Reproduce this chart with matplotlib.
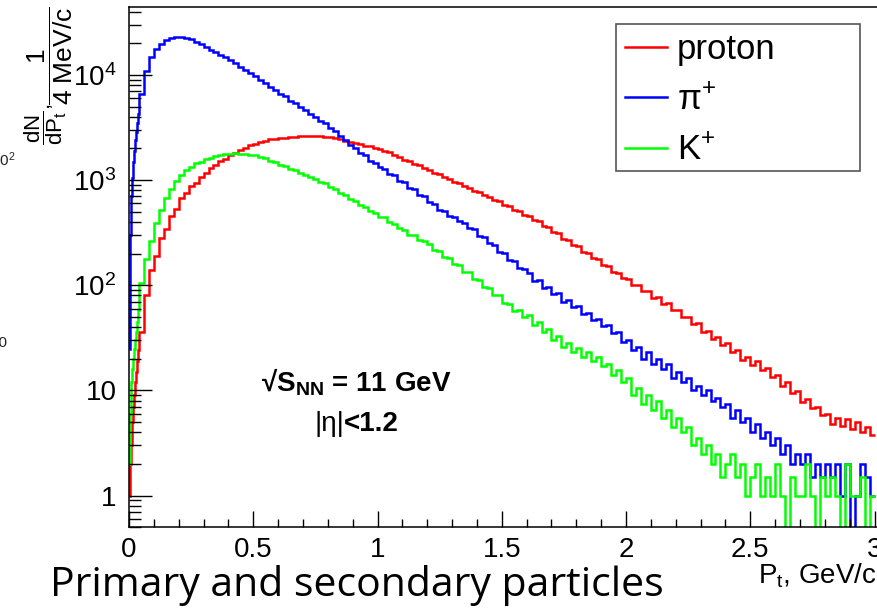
import numpy as np
import matplotlib
matplotlib.use("Agg")
from matplotlib import pyplot as plt
from matplotlib.patches import Rectangle
from matplotlib.ticker import FixedLocator, LogLocator, MultipleLocator, NullFormatter

plt.rcParams['font.family'] = ['Liberation Sans', 'DejaVu Sans']
plt.rcParams['mathtext.fontset'] = 'custom'
plt.rcParams['mathtext.rm'] = 'Liberation Sans'
plt.rcParams['mathtext.it'] = 'Liberation Sans:italic'
plt.rcParams['mathtext.bf'] = 'Liberation Sans:bold'

# binning: 4 MeV bins below 0.04 GeV/c, 20 MeV bins above (counts per 4 MeV/c)
pt_edges = np.concatenate([np.linspace(0.0, 0.04, 11), np.linspace(0.06, 3.0, 148)])

proton = [1, 2, 3, 5, 7, 9, 12, 15, 19, 24,
          36, 80, 140, 190, 280, 345, 455, 535, 670, 760, 870, 945, 1080, 1165, 1300, 1390, 1510, 1590,
          1730, 1810, 1930, 2010, 2150, 2200, 2300, 2360, 2440, 2460, 2520, 2530, 2580, 2590, 2630, 2610, 2650, 2600, 2610, 2560,
          2550, 2490, 2460, 2370, 2330, 2240, 2200, 2110, 2090, 2000, 1970, 1890, 1840, 1730, 1670, 1570, 1520, 1430, 1385, 1300,
          1250, 1170, 1140, 1060, 1030, 965, 935, 870, 850, 785, 765, 715, 695, 645, 630, 585, 570, 525, 512, 470,
          460, 418, 410, 368, 358, 320, 312, 278, 272, 240, 234, 208, 205, 180, 176, 155, 152, 134, 132, 117,
          115, 101, 101, 88, 88, 76, 77, 66, 68, 58, 58, 50, 50, 43, 44, 36, 37, 31, 32, 27,
          28, 23, 24.5, 19.5, 21, 17.5, 19, 15.5, 16.5, 13.5, 14, 11, 12, 9.5, 9.8, 7.8, 8.3, 6.8, 7, 5.8,
          6, 4.8, 5.5, 4.6, 5.3, 4.3, 5, 4, 4.5, 3.8]

pion = [25, 300, 700, 1050, 1500, 1900, 2400, 2900, 3500, 4300,
        6600, 11000, 14800, 17600, 19700, 21400, 22500, 23000, 23100, 22600, 21900, 20700, 19500, 18300, 17400, 16400, 15500, 14700,
        13750, 12950, 11950, 11250, 10450, 9850, 9050, 8350, 7650, 7200, 6650, 6250, 5700, 5400, 4950, 4650, 4250, 4010, 3680, 3470,
        3130, 2910, 2600, 2420, 2160, 2020, 1810, 1720, 1530, 1460, 1330, 1280, 1150, 1110, 990, 960, 850, 820, 725, 700,
        620, 590, 520, 510, 460, 450, 405, 395, 350, 340, 295, 290, 250, 240, 208, 205, 175, 170, 146, 143,
        132, 110, 112, 95, 97, 82, 84, 70, 72, 62, 63, 53, 55, 47, 48, 41, 42, 35, 36, 29,
        30, 24, 26, 20, 23, 18, 20, 16, 18, 13, 15, 12, 13, 10, 11, 9, 10, 8, 8.5, 7,
        7.5, 5.5, 6.5, 5, 5.5, 4, 4.8, 3.5, 4, 3, 3.5, 2.5, 3, 2, 2.5, 2, 2.5, 1.5, 2, 1.5,
        2, 1.5, 2, 1, 2, 0, 1, 2, 1.5, 1]

kaon = [2, 6, 12, 16, 20, 25, 30, 36, 45, 58,
        105, 178, 265, 395, 520, 680, 815, 985, 1110, 1240, 1320, 1440, 1500, 1595, 1630, 1700, 1720, 1770,
        1780, 1810, 1790, 1785, 1740, 1720, 1650, 1610, 1530, 1490, 1400, 1360, 1280, 1240, 1165, 1130, 1060, 1030, 965, 930,
        860, 825, 750, 725, 665, 640, 580, 560, 505, 490, 450, 442, 400, 386, 348, 337, 302, 298, 268, 262,
        245, 216, 214, 186, 183, 158, 156, 134, 134, 115, 113, 96, 95, 81, 80, 68, 67, 57, 58, 50,
        52, 42, 45, 36, 38, 30, 33, 26, 28.5, 23, 25.5, 21, 23, 19, 21, 17, 18, 14, 15.5, 12,
        13, 9, 10.5, 7.5, 9, 6.5, 8, 5.5, 6.5, 4.5, 5.5, 4, 4.5, 3, 3.5, 2.5, 3, 2, 2.5, 1.5,
        2, 2.5, 1.5, 2, 1, 1.5, 2, 1, 1.5, 1, 2, 1, 0, 1.5, 1, 1, 2, 1, 0, 1.5,
        1, 1.5, 1, 0, 2, 1, 1, 1.5, 0, 1]

y_tick_values = [1, 10, 100, 1000, 10000]
y_tick_labels = ['1', '10', r'$10^{2}$', r'$10^{3}$', r'$10^{4}$']

fig = plt.figure(figsize=(8.77, 6.08), dpi=100)
ax = fig.add_axes([129/877, 1-527.3/608, 748/877, 520/608])

ax.stairs(proton, pt_edges, color='#ff0000', lw=1.8, baseline=None, label='proton')
ax.stairs(pion, pt_edges, color='#0000ff', lw=1.8, baseline=None, label=r'$\mathrm{\pi}^{+}$')
ax.stairs(kaon, pt_edges, color='#00ff00', lw=1.8, baseline=None, label=r'K$^{+}$')

ax.set_yscale('log', nonpositive='clip')
ax.set_xlim(0, 3.01)
ax.set_ylim(0.5, 4.4e4)

ax.yaxis.set_major_locator(FixedLocator(y_tick_values))
ax.set_yticklabels(y_tick_labels)
ax.yaxis.set_minor_locator(LogLocator(base=10, subs=np.arange(2, 10)))
ax.yaxis.set_minor_formatter(NullFormatter())
ax.xaxis.set_minor_locator(MultipleLocator(0.1))
ax.set_xticks([0, 0.5, 1, 1.5, 2, 2.5, 3])
ax.set_xticklabels(['0', '0.5', '1', '1.5', '2', '2.5', '3'])

ax.tick_params(axis='x', which='major', direction='in', length=11.5, width=1, labelsize=20, pad=7)
ax.tick_params(axis='x', which='minor', direction='in', length=5.8, width=1)
ax.tick_params(axis='y', which='major', direction='in', length=16.5, width=1, labelsize=20, pad=9)
ax.tick_params(axis='y', which='minor', direction='in', length=8.5, width=1)
ax.spines['right'].set_visible(False)
for s in ['left', 'bottom', 'top']:
    ax.spines[s].set_linewidth(1.1)

# y title: two ROOT-style fractions
fig.text(50/877, 1-6/608, r'$\dfrac{1}{\mathrm{4\ MeV/c}}$',
         rotation=90, ha='center', va='top', fontsize=19)
fig.text(46/877, 1-145/608, r'$\dfrac{\mathrm{dN}}{\mathrm{dP_t}}$,',
         rotation=90, ha='center', va='bottom', fontsize=16)
fig.text(1.0, 1-583/608, r'P$_{\mathrm{t}}$, GeV/c', ha='right', va='baseline', fontsize=20)

# annotations
fig.text(356/877, 1-392/608, '\u221a' + r'$\mathbf{S}_{\mathbf{NN}}$' + ' = 11 GeV',
         fontsize=20, fontweight='bold', ha='center', va='baseline')
fig.text(344/877, 1-431/608, '|\u03b7|', ha='right', va='baseline', fontsize=20)
fig.text(344/877, 1-431/608, '<1.2', ha='left', va='baseline', fontsize=20, fontweight='bold')

# legend with fixed ROOT-like box
fig.add_artist(Rectangle((616/877, 1-171/608), 244/877, 147/608, transform=fig.transFigure,
                         fill=False, edgecolor='#555555', lw=1.2))
fig.legend(loc='center left', bbox_to_anchor=(625/877, 1-100/608), frameon=False, fontsize=25,
           handlelength=1.2, handletextpad=0.3, labelspacing=0.5, borderpad=0, borderaxespad=0)

# slide caption
fig.text(50/877, 1-596/608, 'Primary and secondary particles', family=['Open Sans', 'DejaVu Sans'],
         fontsize=29.5, ha='left', va='baseline')

# remnants of the neighbouring plot at the left edge
fig.text(15/877, 1-160/608, r'$10^{2}$', ha='right', va='center', fontsize=11, color='#222222')
fig.text(8/877, 1-343/608, '10', ha='right', va='center', fontsize=11, color='#222222')

plt.savefig('out.png', dpi=100)
